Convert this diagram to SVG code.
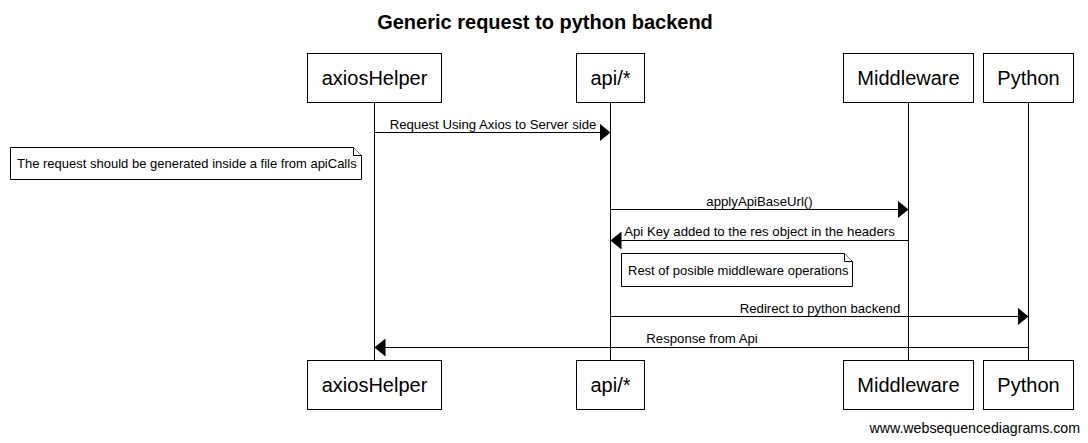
<svg xmlns="http://www.w3.org/2000/svg" width="1088" height="443" viewBox="0 0 1088 443">
<style>
.box{fill:#fff;stroke:#000;stroke-width:1}
.life{stroke:#000;stroke-width:1;fill:none}
.msg{stroke:#000;stroke-width:1;fill:none;marker-end:url(#ah)}
.note{fill:#fff;stroke:#000;stroke-width:1}
.pname{font-family:"Liberation Sans",Arial,sans-serif;font-size:20px;text-anchor:middle;fill:#000}
.lbl{font-family:"Liberation Sans",Arial,sans-serif;font-size:13.2px;text-anchor:middle;fill:#000}
.ntxt{font-family:"Liberation Sans",Arial,sans-serif;font-size:13px;fill:#000}
.title{font-family:"Liberation Sans",Arial,sans-serif;font-size:20px;font-weight:bold;text-anchor:middle;fill:#000}
.wm{font-family:"Liberation Sans",Arial,sans-serif;font-size:14.2px;text-anchor:end;fill:#000}
</style>
<defs>
<marker id="ah" viewBox="0 0 11 18" refX="11" refY="9" markerWidth="11" markerHeight="18" markerUnits="userSpaceOnUse" orient="auto">
<path d="M0,0 L11,9 L0,18 Z" fill="#000"/>
</marker>
</defs>
<rect width="1088" height="443" fill="#fff"/>
<text class="title" x="545" y="29">Generic request to python backend</text>

<g id="lifelines">
<line class="life" x1="374.5" y1="102" x2="374.5" y2="360"/>
<line class="life" x1="610.5" y1="102" x2="610.5" y2="360"/>
<line class="life" x1="908.5" y1="102" x2="908.5" y2="360"/>
<line class="life" x1="1028.5" y1="102" x2="1028.5" y2="360"/>
</g>

<g id="axiosHelper">
<rect class="box" x="307.5" y="53.5" width="134" height="49"/>
<text class="pname" x="374.5" y="85">axiosHelper</text>
<rect class="box" x="307.5" y="360.5" width="134" height="49"/>
<text class="pname" x="374.5" y="392">axiosHelper</text>
</g>
<g id="api">
<rect class="box" x="576.5" y="53.5" width="68" height="49"/>
<text class="pname" x="610.5" y="85">api/*</text>
<rect class="box" x="576.5" y="360.5" width="68" height="49"/>
<text class="pname" x="610.5" y="392">api/*</text>
</g>
<g id="Middleware">
<rect class="box" x="843.5" y="53.5" width="130" height="49"/>
<text class="pname" x="908.5" y="85">Middleware</text>
<rect class="box" x="843.5" y="360.5" width="130" height="49"/>
<text class="pname" x="908.5" y="392">Middleware</text>
</g>
<g id="Python">
<rect class="box" x="983.5" y="53.5" width="90" height="49"/>
<text class="pname" x="1028.5" y="85">Python</text>
<rect class="box" x="983.5" y="360.5" width="90" height="49"/>
<text class="pname" x="1028.5" y="392">Python</text>
</g>

<g id="connectors">
<line class="msg" x1="374.5" y1="132.5" x2="610.5" y2="132.5"/>
<text class="lbl" x="493" y="128.5">Request Using Axios to Server side</text>
<line class="msg" x1="610.5" y1="209.5" x2="908.5" y2="209.5"/>
<text class="lbl" x="759.5" y="205.5">applyApiBaseUrl()</text>
<line class="msg" x1="908.5" y1="240.5" x2="610.5" y2="240.5"/>
<text class="lbl" x="759.5" y="235.5">Api Key added to the res object in the headers</text>
<line class="msg" x1="610.5" y1="316.5" x2="1028.5" y2="316.5"/>
<text class="lbl" x="820" y="312.5">Redirect to python backend</text>
<line class="msg" x1="1028.5" y1="347.5" x2="374.5" y2="347.5"/>
<text class="lbl" x="702" y="343">Response from Api</text>
</g>

<g id="note1">
<path class="note" d="M10.5,147.5 H353.5 L361.5,155.5 V179.5 H10.5 Z"/>
<path class="note" d="M353.5,147.5 V155.5 H361.5" fill="none"/>
<text class="ntxt" x="17" y="168">The request should be generated inside a file from apiCalls</text>
</g>
<g id="note2">
<path class="note" d="M621.5,253.5 H844.5 L852.5,261.5 V286.5 H621.5 Z"/>
<path class="note" d="M844.5,253.5 V261.5 H852.5" fill="none"/>
<text class="ntxt" x="628" y="274.5">Rest of posible middleware operations</text>
</g>

<text class="wm" x="1080" y="433">www.websequencediagrams.com</text>
</svg>
